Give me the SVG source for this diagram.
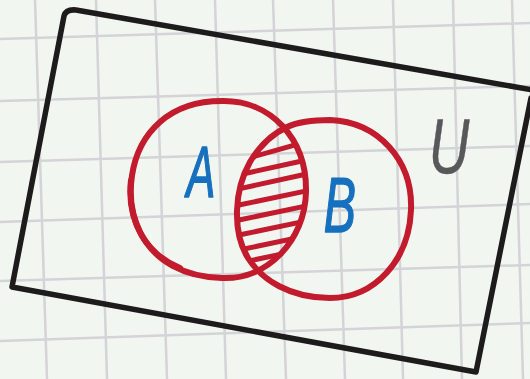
<svg xmlns="http://www.w3.org/2000/svg" width="530" height="379" viewBox="0 0 530 379">
<style>
.grid line{stroke:#d3d3d8;stroke-width:2.5}
.frame{fill:none;stroke:#1e1b1c;stroke-width:5.5;stroke-linejoin:round;stroke-linecap:round}
.set{fill:none;stroke:#c11b2d;stroke-width:6;stroke-linecap:round}
.hatch line{stroke:#c11b2d;stroke-width:5;stroke-linecap:round}
.lbl{font-family:"Liberation Sans",Arial,sans-serif;font-style:italic;text-anchor:middle;stroke-linejoin:round}
.blue{fill:#1670be;stroke:#1670be;stroke-width:1.5}
.gray{fill:#58585b;stroke:#58585b;stroke-width:0.5}
</style>
<defs>
<path id="pA" d="M222,101 C270,100 307,138 306,192 C305,240 268,280 222,278 C185,277 155,262 140,232 C124,200 128,150 160,122 C178,106 200,101 222,101 Z"/>
<path id="pB" d="M287,127 C300,121 315,120 330,120 C378,122 413,160 411,210 C409,260 375,298 330,298 C290,298 262,280 248,258 C232,232 234,190 250,162 C260,145 272,134 287,127 Z"/>
<clipPath id="clipA"><use href="#pA"/></clipPath>
<clipPath id="clipB"><use href="#pB"/></clipPath>
</defs>
<rect width="530" height="379" fill="#f2f6f0"/>
<g class="grid" id="grid">
<line x1="0" y1="39" x2="530" y2="23"/>
<line x1="0" y1="101" x2="530" y2="86"/>
<line x1="0" y1="162" x2="530" y2="146"/>
<line x1="0" y1="222" x2="530" y2="204"/>
<line x1="0" y1="281" x2="530" y2="265"/>
<line x1="0" y1="341" x2="530" y2="323"/>
<line x1="35" y1="0" x2="47" y2="379"/>
<line x1="96" y1="0" x2="107" y2="379"/>
<line x1="155" y1="0" x2="167" y2="379"/>
<line x1="215" y1="0" x2="226" y2="379"/>
<line x1="273" y1="0" x2="286" y2="379"/>
<line x1="333" y1="0" x2="345" y2="379"/>
<line x1="393" y1="0" x2="403" y2="379"/>
<line x1="453" y1="0" x2="462" y2="379"/>
<line x1="512" y1="0" x2="523" y2="379"/>
</g>
<g id="universe">
<path class="frame" d="M12,287 L64,16 Q66,9 76,10 L533,90 M531,98 L476,372 L12,287"/>
<text class="lbl gray" transform="translate(449,173) scale(0.72,1)" font-size="78">U</text>
</g>
<g id="intersection" clip-path="url(#clipA)">
<g class="hatch" clip-path="url(#clipB)">
<line x1="220" y1="166" x2="320" y2="138"/>
<line x1="220" y1="179" x2="320" y2="157"/>
<line x1="220" y1="193" x2="320" y2="171"/>
<line x1="220" y1="209" x2="320" y2="188"/>
<line x1="220" y1="224" x2="320" y2="203"/>
<line x1="220" y1="239" x2="320" y2="218"/>
<line x1="220" y1="254" x2="320" y2="233"/>
<line x1="220" y1="267" x2="320" y2="246"/>
</g>
</g>
<g id="setA">
<use href="#pA" class="set"/>
<path class="set" stroke-width="5" d="M131,180 C128,205 134,222 142,236 C152,252 165,262 180,268"/>
<text class="lbl blue" transform="translate(201,197) scale(0.6,1)" font-size="72">A</text>
</g>
<g id="setB">
<use href="#pB" class="set"/>
<text class="lbl blue" transform="translate(340,232) scale(0.62,1)" font-size="78" font-style="normal">B</text>
</g>
</svg>
